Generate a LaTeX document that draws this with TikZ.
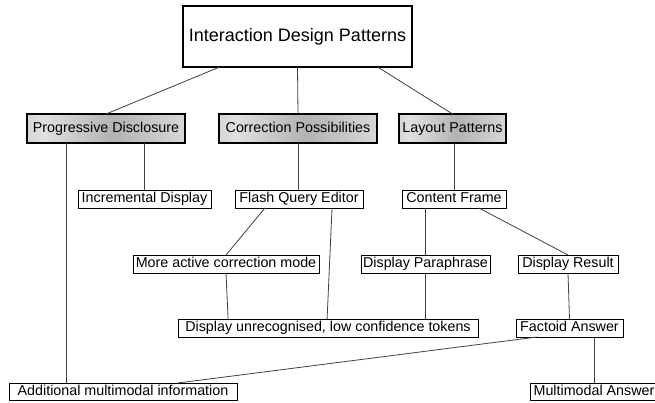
\documentclass[tikz,border=0pt]{standalone}
\usepackage{fontspec}
\setmainfont{Liberation Sans}
\usetikzlibrary{calc}
\pgfdeclarehorizontalshading{lvlshade}{100bp}{color(0bp)=(black!38); color(30bp)=(black!12); color(52bp)=(black!30); color(100bp)=(white)}
\begin{document}
\begin{tikzpicture}[x=1pt,y=-1pt,
  box/.style={draw=black, line width=0.8pt, inner sep=0pt, outer sep=0pt, minimum height=18pt,
    font=\fontsize{14.3}{16}\selectfont, text height=10.5pt, text depth=3pt},
  lvl/.style={box, line width=2pt, minimum height=29pt, shading=lvlshade},
  topbox/.style={draw=black, line width=2pt, inner sep=0pt, outer sep=0pt, fill=white,
    font=\fontsize{18}{21}\selectfont},
  conn/.style={draw=black!75, line width=0.8pt}]
\useasboundingbox (0,0) rectangle (655,402);
\node[topbox, minimum width=229pt, minimum height=61pt] (top) at (297.5,36.5) {Interaction Design Patterns};
\node[lvl, minimum width=158pt] (pd) at (106,128.5) {Progressive Disclosure};
\node[lvl, minimum width=158pt] (cp) at (298,128.5) {Correction Possibilities};
\node[lvl, minimum width=107pt] (lp) at (452.5,128.5) {Layout Patterns};
\node[box, minimum width=133pt] (id) at (144.5,199) {Incremental Display};
\node[box, minimum width=128pt] (fqe) at (299,199) {Flash Query Editor};
\node[box, minimum width=104pt] (cf) at (454,199) {Content Frame};
\node[box, minimum width=186pt] (macm) at (226,264) {More active correction mode};
\node[box, minimum width=129pt] (dp) at (425.5,264) {Display Paraphrase};
\node[box, minimum width=100pt] (dr) at (568,264) {Display Result};
\node[box, minimum width=300pt] (du) at (328,328) {Display unrecognised, low confidence tokens};
\node[box, minimum width=107pt] (fa) at (569.5,328) {Factoid Answer};
\node[box, minimum width=228pt, minimum height=17pt] (ami) at (123,391.5) {Additional multimodal information};
\node[box, minimum width=128pt, minimum height=17pt] (ma) at (594,391.5) {Multimodal Answer};
% connectors
\path[conn] ($(top.south west)!0.16!(top.south east)$) -- (pd.north);
\path[conn] (top.south) -- (cp.north);
\path[conn] ($(top.south west)!0.85!(top.south east)$) -- (lp.north);
\coordinate (pdA) at ($(pd.south west)!0.25!(pd.south east)$);
\path[conn] (pdA) -- (pdA |- ami.north);
\path[conn] (id.north |- pd.south) -- (id.north);
\path[conn] (cp.south) -- (cp.south |- fqe.north);
\path[conn] ($(fqe.south west)!0.234!(fqe.south east)$) -- (macm.north);
\path[conn] ($(fqe.south west)!0.758!(fqe.south east)$) -- ($(du.north west)!0.497!(du.north east)$);
\path[conn] (macm.south) -- ($(du.north west)!0.167!(du.north east)$);
\path[conn] (cf.north |- lp.south) -- (cf.north);
\path[conn] (dp.north |- cf.south) -- (dp.north);
\path[conn] ($(cf.south west)!0.74!(cf.south east)$) -- (dr.north);
\path[conn] (dp.south) -- (dp.south |- du.north);
\path[conn] (dr.south) -- (fa.north);
\path[conn] ($(fa.south west)!0.196!(fa.south east)$) -- ($(ami.north west)!0.74!(ami.north east)$);
\path[conn] (ma.north |- fa.south) -- (ma.north);
\end{tikzpicture}
\end{document}
